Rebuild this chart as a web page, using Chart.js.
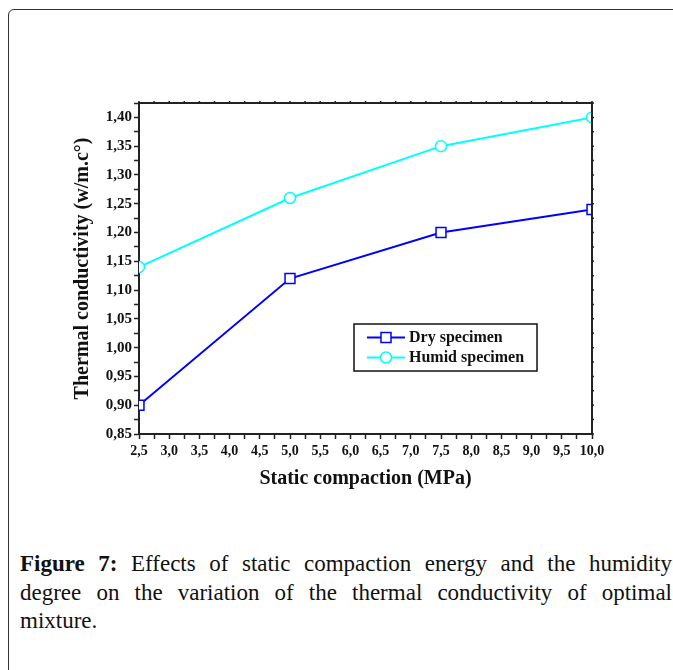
<!DOCTYPE html>
<html lang="en">

<head>
    <meta charset="UTF-8">
    <title>Figure 7 - Thermal conductivity</title>
    <script src="https://cdn.jsdelivr.net/npm/chart.js"></script>
    <style>
        body {
            margin: 0;
            padding: 0;
            width: 673px;
            height: 670px;
            overflow: hidden;
            background: #ffffff;
            position: relative;
        }

        .frame {
            position: absolute;
            left: 8px;
            top: 9px;
            width: 720px;
            height: 720px;
            border: 1.5px solid #333;
            border-top-left-radius: 6px;
        }

        #chart {
            position: absolute;
            left: 0;
            top: 0;
        }

        .caption {
            position: absolute;
            left: 20px;
            top: 550px;
            width: 652px;
            font-family: "Liberation Serif", serif;
            font-size: 23px;
            line-height: 28.5px;
            color: #111;
        }

        .caption span {
            display: block;
            text-align: justify;
            text-align-last: justify;
        }

        .caption span.last {
            text-align-last: left;
        }
    </style>
</head>

<body>
    <div class="frame"></div>
    <canvas id="chart" width="673" height="520"></canvas>
    <div class="caption">
        <span><b>Figure 7:</b> Effects of static compaction energy and the humidity</span>
        <span>degree on the variation of the thermal conductivity of optimal</span>
        <span class="last">mixture.</span>
    </div>

    <script>
        // data
        const compaction = [2.5, 5.0, 7.5, 10.0];
        const drySpecimen = [0.90, 1.12, 1.20, 1.24];
        const humidSpecimen = [1.14, 1.26, 1.35, 1.40];
        const seriesNames = ['Dry specimen', 'Humid specimen'];
        const seriesColors = ['#0000ff', '#00ffff'];
        const seriesMarkers = ['rect', 'circle'];

        const xTitle = 'Static compaction (MPa)';
        const yTitle = 'Thermal conductivity (w/m.c°)';

        const serif = '"Liberation Serif", "Times New Roman", serif';
        const axisColor = '#222';

        const toPoints = ys => compaction.map((x, i) => ({ x: x, y: ys[i] }));

        // top / right mirror axes with short outward ticks
        const framePlugin = {
            id: 'frame',
            afterDraw(chart) {
                const { ctx, chartArea: a, scales } = chart;
                ctx.save();
                ctx.strokeStyle = axisColor;
                ctx.lineWidth = 2;
                ctx.beginPath();
                ctx.moveTo(a.left - 1, a.top);
                ctx.lineTo(a.right, a.top);
                ctx.lineTo(a.right, a.bottom + 1);
                ctx.stroke();
                ctx.lineWidth = 1.5;
                scales.x.ticks.forEach(t => {
                    const px = scales.x.getPixelForValue(t.value);
                    ctx.beginPath();
                    ctx.moveTo(px, a.top);
                    ctx.lineTo(px, a.top - 2);
                    ctx.stroke();
                });
                scales.y.ticks.forEach(t => {
                    const py = scales.y.getPixelForValue(t.value);
                    ctx.beginPath();
                    ctx.moveTo(a.right, py);
                    ctx.lineTo(a.right + 2, py);
                    ctx.stroke();
                });
                ctx.restore();
            }
        };

        // boxed legend with line + marker samples
        const legendBox = {
            id: 'legendBox',
            afterDraw(chart) {
                const { ctx, chartArea: a } = chart;
                const w = a.right - a.left, h = a.bottom - a.top;
                const left = a.left + w * 0.4746, right = a.left + w * 0.8786;
                const top = a.top + h * 0.6677, bottom = a.top + h * 0.8097;
                ctx.save();
                ctx.fillStyle = '#fff';
                ctx.fillRect(left, top, right - left, bottom - top);
                ctx.strokeStyle = '#111';
                ctx.lineWidth = 1.5;
                ctx.strokeRect(left, top, right - left, bottom - top);
                ctx.font = 'bold 16px ' + serif;
                ctx.textBaseline = 'middle';
                chart.data.datasets.forEach((ds, i) => {
                    const y = top + 13.5 + i * 20;
                    ctx.strokeStyle = ds.borderColor;
                    ctx.lineWidth = 2;
                    ctx.beginPath();
                    ctx.moveTo(left + 13, y);
                    ctx.lineTo(left + 51, y);
                    ctx.stroke();
                    ctx.fillStyle = '#fff';
                    ctx.lineWidth = 1.5;
                    if (ds.pointStyle === 'rect') {
                        ctx.fillRect(left + 27, y - 5, 10, 10);
                        ctx.strokeRect(left + 27, y - 5, 10, 10);
                    } else {
                        ctx.beginPath();
                        ctx.arc(left + 32, y, 5.5, 0, Math.PI * 2);
                        ctx.fill();
                        ctx.stroke();
                    }
                    ctx.fillStyle = '#111';
                    ctx.fillText(ds.label, left + 55, y);
                });
                ctx.restore();
            }
        };

        new Chart(document.getElementById('chart'), {
            type: 'scatter',
            data: {
                datasets: [drySpecimen, humidSpecimen].map((ys, i) => ({
                    label: seriesNames[i],
                    data: toPoints(ys),
                    showLine: true,
                    borderColor: seriesColors[i],
                    borderWidth: 2,
                    pointStyle: seriesMarkers[i],
                    pointRadius: i === 0 ? 7 : 5.5,
                    pointBackgroundColor: '#fff',
                    pointBorderColor: seriesColors[i],
                    pointBorderWidth: 1.5
                }))
            },
            options: {
                responsive: false,
                animation: false,
                layout: { padding: { top: 103, right: 81, left: 0, bottom: 0 } },
                plugins: {
                    legend: { display: false },
                    tooltip: { enabled: false }
                },
                scales: {
                    x: {
                        type: 'linear',
                        min: 2.5,
                        max: 10,
                        afterFit: s => { s.height = 86; },
                        border: { display: true, color: axisColor, width: 2 },
                        grid: { drawOnChartArea: false, color: axisColor, tickLength: 5, tickWidth: 1.5 },
                        ticks: {
                            stepSize: 0.25,
                            autoSkip: false,
                            maxRotation: 0,
                            padding: 4,
                            color: '#111',
                            font: { family: serif, size: 14, weight: 'bold' },
                            callback: v => Math.round(v * 100) % 50 === 0 ? v.toFixed(1).replace('.', ',') : ''
                        },
                        title: {
                            display: true,
                            text: xTitle,
                            color: '#111',
                            padding: { top: 0, bottom: 29 },
                            font: { family: serif, size: 20, weight: 'bold' }
                        }
                    },
                    y: {
                        min: 0.85,
                        max: 1.425,
                        afterFit: s => { s.width = 139; },
                        border: { display: true, color: axisColor, width: 2 },
                        grid: { drawOnChartArea: false, color: axisColor, tickLength: 5, tickWidth: 1.5 },
                        ticks: {
                            stepSize: 0.025,
                            autoSkip: false,
                            padding: 2,
                            color: '#111',
                            font: { family: serif, size: 15, weight: 'bold' },
                            callback: v => Math.round(v * 1000) % 50 === 0 ? v.toFixed(2).replace('.', ',') : ''
                        },
                        title: {
                            display: true,
                            text: yTitle,
                            color: '#111',
                            padding: { top: 70.5, bottom: 0 },
                            font: { family: serif, size: 20, weight: 'bold' }
                        }
                    }
                }
            },
            plugins: [framePlugin, legendBox]
        });
    </script>
</body>

</html>
